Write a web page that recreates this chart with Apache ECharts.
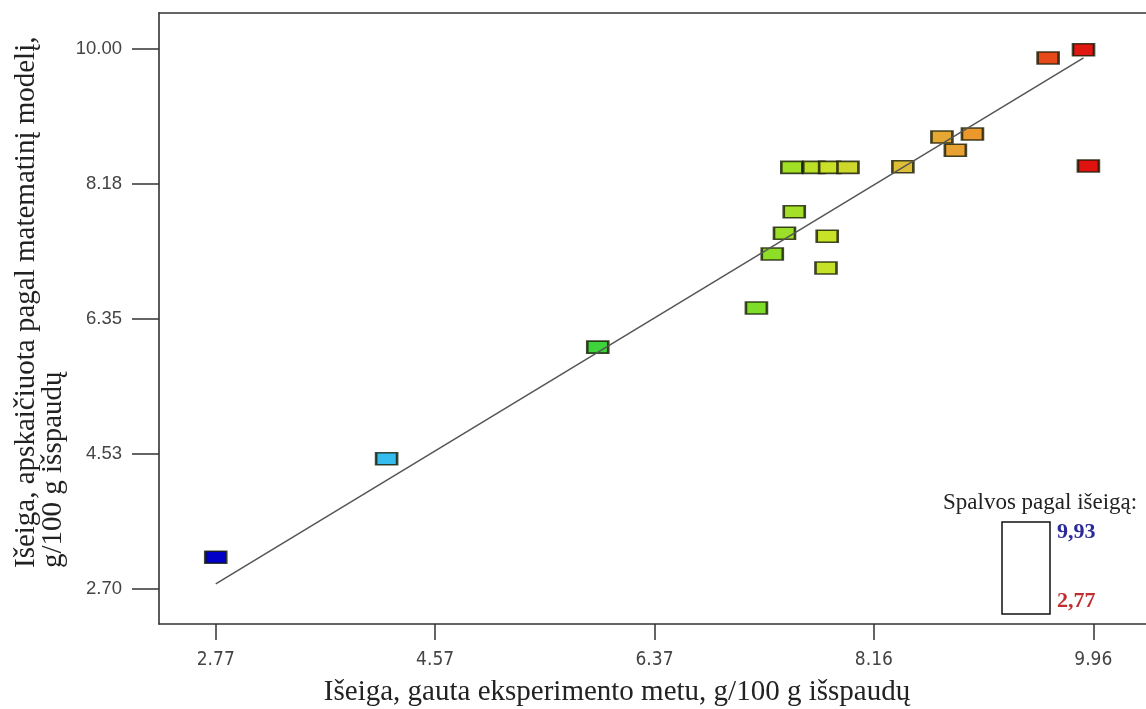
<!DOCTYPE html>
<html>
<head>
<meta charset="utf-8">
<script src="https://cdn.jsdelivr.net/npm/echarts@6/dist/echarts.min.js"></script>
<style>html,body{margin:0;padding:0;background:#fff;}#c{width:1146px;height:709px;}</style>
</head>
<body>
<div id="c"></div>
<script>
// Experimental yield (x) and model-predicted yield (y), g/100 g
const xExperimental = [2.77, 4.17, 5.90, 7.20, 7.33, 7.43, 7.51, 7.49, 7.67, 7.80, 7.95, 7.78, 7.77, 8.40, 8.72, 8.83, 8.97, 9.59, 9.88, 9.92];
const yModel        = [3.13, 4.46, 5.97, 6.50, 7.23, 7.51, 7.80, 8.40, 8.40, 8.40, 8.40, 7.47, 7.04, 8.41, 8.81, 8.63, 8.85, 9.88, 9.99, 8.42];
// Fit line (y = x)
const fitX = [2.77, 9.88];
const fitY = [2.77, 9.88];
// Tick values and labels
const xTickValues = [2.77, 4.5675, 6.365, 8.1625, 9.96];
const xTickLabels = ['2.77', '4.57', '6.37', '8.16', '9.96'];
const yTickValues = [2.70, 4.525, 6.35, 8.175, 10.00];
const yTickLabels = ['2.70', '4.53', '6.35', '8.18', '10.00'];
// Colour legend texts
const legendTitle = 'Spalvos pagal išeigą:';
const legendHigh = '9,93';
const legendLow = '2,77';
const xTitle = 'Išeiga, gauta eksperimento metu, g/100 g išspaudų';
const yTitle = ['Išeiga, apskaičiuota pagal matematinį modelį,', 'g/100 g išspaudų'];

function labelFor(values, labels) {
  return function (v) {
    let best = 0, d = Infinity;
    values.forEach((t, i) => { const dd = Math.abs(t - v); if (dd < d) { d = dd; best = i; } });
    return labels[best];
  };
}

const chart = echarts.init(document.getElementById('c'), null, { renderer: 'canvas' });
const points = xExperimental.map((x, i) => [x, yModel[i]]);
const line = fitX.map((x, i) => [x, fitY[i]]);

chart.setOption({
  backgroundColor: '#fff',
  animation: false,
  grid: { left: 159, top: 13, right: -5, bottom: 85, show: false },
  xAxis: [{
    type: 'value', min: 2.305, max: 10.392,
    axisLine: { show: true, onZero: false, lineStyle: { color: '#333', width: 1.6 } },
    axisTick: { show: true, customValues: xTickValues, length: 16, inside: false, lineStyle: { color: '#333', width: 1.5 } },
    axisLabel: { customValues: xTickValues, formatter: labelFor(xTickValues, xTickLabels), margin: 27, color: '#444', fontSize: 19, fontFamily: "'Liberation Sans Narrow', 'DejaVu Sans Condensed', 'Liberation Sans', sans-serif" },
    splitLine: { show: false }
  }, {
    type: 'value', position: 'top', min: 2.305, max: 10.392,
    axisLine: { show: true, onZero: false, lineStyle: { color: '#333', width: 1.6 } },
    axisTick: { show: false }, axisLabel: { show: false }, splitLine: { show: false }
  }],
  yAxis: {
    type: 'value', min: 2.227, max: 10.487,
    axisLine: { show: true, onZero: false, lineStyle: { color: '#333', width: 1.6 } },
    axisTick: { show: true, customValues: yTickValues, length: 27, inside: false, lineStyle: { color: '#333', width: 1.5 } },
    axisLabel: { customValues: yTickValues, formatter: labelFor(yTickValues, yTickLabels), margin: 37, color: '#444', fontSize: 18.5, fontFamily: "'Liberation Sans', Arial, sans-serif" },
    splitLine: { show: false }
  },
  visualMap: {
    show: false, type: 'continuous', dimension: 0, seriesIndex: 0, min: 2.77, max: 9.93,
    inRange: { color: ['#0000c8', '#1060e0', '#38c0ee', '#38d0a0', '#38d040', '#48d830', '#6cdc28', '#c8e228', '#e0b838', '#f08828', '#e01010'] }
  },
  series: [
    {
      type: 'scatter', data: points, symbol: 'rect', symbolSize: [21, 12], z: 2,
      itemStyle: { borderColor: 'rgba(20,25,0,0.8)', borderWidth: 2, opacity: 1 }
    },
    {
      type: 'line', data: line, showSymbol: false, symbol: 'none', z: 3,
      lineStyle: { color: '#555', width: 1.5 }
    }
  ],
  graphic: [
    { type: 'text', x: 617, y: 692, style: { text: xTitle, font: "29px 'Liberation Serif', 'Times New Roman', serif", fill: '#222', align: 'center', verticalAlign: 'middle' } },
    { type: 'text', x: 13, y: 568, rotation: Math.PI / 2, style: { text: yTitle.join('\n'), font: "29px 'Liberation Serif', 'Times New Roman', serif", lineHeight: 27, fill: '#222', align: 'left', verticalAlign: 'top' } },
    { type: 'text', x: 943, y: 503, style: { text: legendTitle, font: "23px 'Liberation Serif', 'Times New Roman', serif", fill: '#222', align: 'left', verticalAlign: 'middle' } },
    { type: 'rect', shape: { x: 1002, y: 522, width: 48, height: 92 }, style: { fill: '#fff', stroke: '#111', lineWidth: 1.5 } },
    { type: 'text', x: 1057, y: 532, style: { text: legendHigh, font: "bold 22px 'Liberation Serif', 'Times New Roman', serif", fill: '#2a2a9a', align: 'left', verticalAlign: 'middle' } },
    { type: 'text', x: 1057, y: 601, style: { text: legendLow, font: "bold 22px 'Liberation Serif', 'Times New Roman', serif", fill: '#c03030', align: 'left', verticalAlign: 'middle' } }
  ]
});
</script>
</body>
</html>
